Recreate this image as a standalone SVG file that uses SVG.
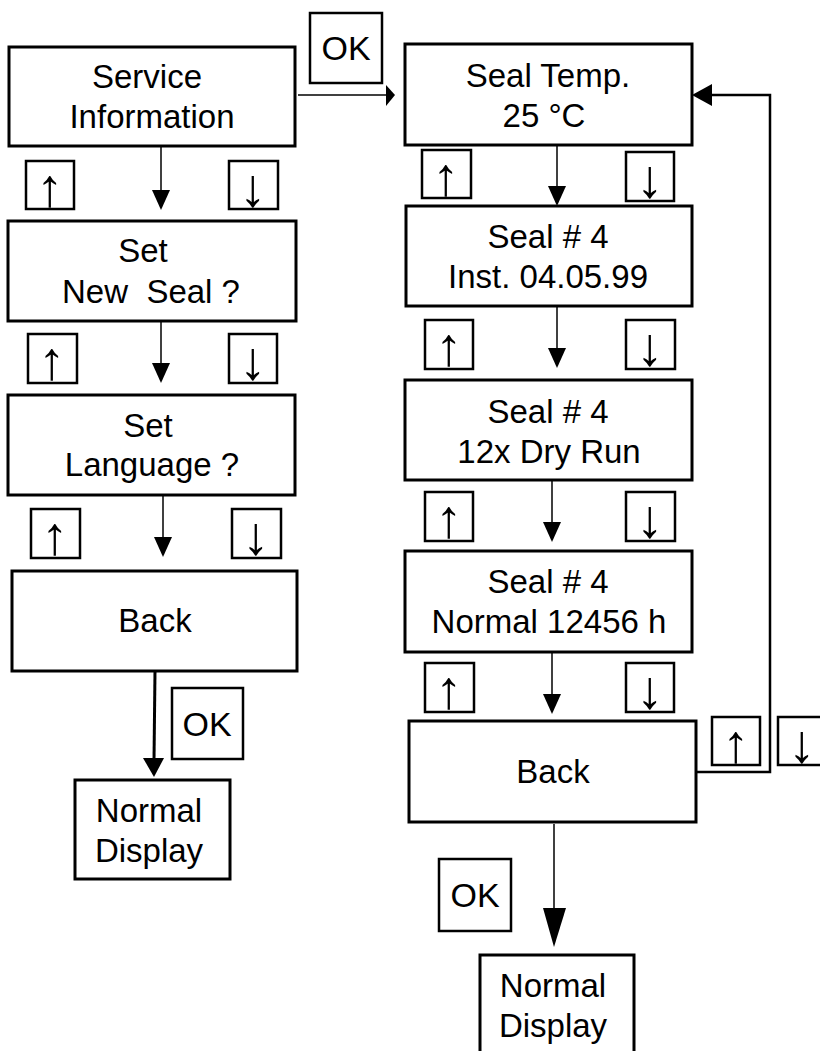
<svg xmlns="http://www.w3.org/2000/svg" width="820" height="1051" viewBox="0 0 820 1051">
<style>
.box{fill:#fff;stroke:#000;stroke-width:3}
.key{fill:#fff;stroke:#000;stroke-width:2.5}
.t{font-family:"Liberation Sans",Arial,sans-serif;font-size:33px;fill:#000;text-anchor:middle}
.ok{font-family:"Liberation Sans",Arial,sans-serif;font-size:34px;fill:#000;text-anchor:middle}
.ar{font-family:"Liberation Sans",Arial,sans-serif;font-size:54px;fill:#000;text-anchor:middle}
.ln{fill:none;stroke:#000;stroke-width:1.5}
.lnb{fill:none;stroke:#000;stroke-width:3}
.ll{fill:none;stroke:#000;stroke-width:2.5}
</style>
<rect width="820" height="1051" fill="#fff"/>
<g id="connectors">
<line class="ln" x1="298" y1="95" x2="388" y2="95"/>
<polygon points="386,85 395,95 386,106"/>
<line class="ln" x1="161" y1="146" x2="161" y2="192"/>
<polygon points="152,190 170,190 161,210"/>
<line class="ln" x1="161" y1="321" x2="161" y2="365"/>
<polygon points="152,363 170,363 161,383"/>
<line class="ln" x1="163" y1="495" x2="163" y2="540"/>
<polygon points="154,537 172,537 163,557"/>
<line class="lnb" x1="155" y1="671" x2="154" y2="760"/>
<polygon points="143,758 164,758 154,777"/>
<line class="ln" x1="557" y1="145" x2="557" y2="188"/>
<polygon points="548,186 566,186 557,206"/>
<line class="ln" x1="557" y1="306" x2="557" y2="350"/>
<polygon points="548,348 566,348 557,368"/>
<line class="ln" x1="552" y1="480" x2="552" y2="524"/>
<polygon points="543,522 561,522 552,542"/>
<line class="ln" x1="552" y1="652" x2="552" y2="696"/>
<polygon points="543,694 561,694 552,714"/>
<line class="ln" x1="554" y1="824" x2="554" y2="910"/>
<polygon points="543,908 566,908 554,947"/>
<polyline class="ll" points="696,772 770,772 770,95 710,95"/>
<polygon points="712,84 712,106 692,95"/>
</g>
<g id="ok1"><rect class="key" x="310" y="13" width="72" height="70"/><text class="ok" x="346" y="60">OK</text></g>
<g id="service-information"><rect class="box" x="9" y="47" width="286" height="99"/><text class="t" x="147" y="88">Service</text><text class="t" x="152" y="128">Information</text></g>
<g id="set-new-seal"><rect class="box" x="8" y="221" width="288" height="100"/><text class="t" x="143" y="262">Set</text><text class="t" x="151" y="303">New&#160; Seal ?</text></g>
<g id="set-language"><rect class="box" x="8" y="395" width="287" height="100"/><text class="t" x="148" y="437">Set</text><text class="t" x="152" y="476">Language ?</text></g>
<g id="back-left"><rect class="box" x="12" y="571" width="285" height="100"/><text class="t" x="155" y="632">Back</text></g>
<g id="ok2"><rect class="key" x="172" y="688" width="71" height="71"/><text class="ok" x="207" y="736">OK</text></g>
<g id="normal-display-left"><rect class="box" x="75" y="780" width="155" height="99"/><text class="t" x="149" y="822">Normal</text><text class="t" x="149" y="862">Display</text></g>
<g id="seal-temp"><rect class="box" x="405" y="44" width="287" height="101"/><text class="t" x="548" y="87">Seal Temp.</text><text class="t" x="544" y="127">25 °C</text></g>
<g id="seal-inst"><rect class="box" x="406" y="206" width="286" height="100"/><text class="t" x="548" y="248">Seal # 4</text><text class="t" x="548" y="288">Inst. 04.05.99</text></g>
<g id="seal-dry"><rect class="box" x="405" y="380" width="287" height="100"/><text class="t" x="548" y="423">Seal # 4</text><text class="t" x="549" y="463">12x Dry Run</text></g>
<g id="seal-normal"><rect class="box" x="405" y="551" width="287" height="101"/><text class="t" x="548" y="593">Seal # 4</text><text class="t" x="549" y="633">Normal 12456 h</text></g>
<g id="back-right"><rect class="box" x="409" y="721" width="287" height="101"/><text class="t" x="553" y="783">Back</text></g>
<g id="ok3"><rect class="key" x="439" y="859" width="72" height="72"/><text class="ok" x="475" y="907">OK</text></g>
<g id="normal-display-right"><rect class="box" x="480" y="955" width="154" height="110"/><text class="t" x="553" y="997">Normal</text><text class="t" x="553" y="1037">Display</text></g>
<g id="keys">
<rect class="key" x="26" y="161" width="48" height="48"/><text class="ar" x="50" y="206">↑</text>
<rect class="key" x="229" y="161" width="49" height="48"/><text class="ar" x="253" y="206">↓</text>
<rect class="key" x="28" y="334" width="49" height="49"/><text class="ar" x="52" y="379">↑</text>
<rect class="key" x="229" y="334" width="48" height="49"/><text class="ar" x="253" y="379">↓</text>
<rect class="key" x="31" y="509" width="49" height="49"/><text class="ar" x="55" y="554">↑</text>
<rect class="key" x="232" y="509" width="49" height="49"/><text class="ar" x="256" y="554">↓</text>
<rect class="key" x="422" y="150" width="49" height="48"/><text class="ar" x="446" y="195">↑</text>
<rect class="key" x="626" y="152" width="48" height="49"/><text class="ar" x="650" y="197">↓</text>
<rect class="key" x="425" y="320" width="48" height="49"/><text class="ar" x="449" y="365">↑</text>
<rect class="key" x="626" y="320" width="49" height="49"/><text class="ar" x="650" y="365">↓</text>
<rect class="key" x="425" y="492" width="48" height="49"/><text class="ar" x="449" y="537">↑</text>
<rect class="key" x="626" y="492" width="49" height="49"/><text class="ar" x="650" y="537">↓</text>
<rect class="key" x="425" y="663" width="49" height="49"/><text class="ar" x="449" y="708">↑</text>
<rect class="key" x="626" y="663" width="48" height="49"/><text class="ar" x="650" y="708">↓</text>
<rect class="key" x="712" y="717" width="48" height="48"/><text class="ar" x="736" y="762">↑</text>
<rect class="key" x="778" y="717" width="48" height="48"/><text class="ar" x="802" y="762">↓</text>
</g>
</svg>
